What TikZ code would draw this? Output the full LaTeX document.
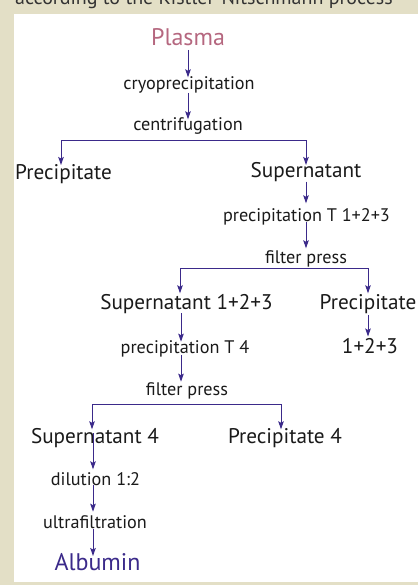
\documentclass[tikz,border=0pt]{standalone}
\usepackage{fontspec}
\setmainfont{PT Sans}
\usetikzlibrary{arrows.meta,calc}
\definecolor{beige}{HTML}{E3DFC6}
\definecolor{arrowc}{HTML}{3B2A8A}
\definecolor{plasmac}{HTML}{B5677F}
\definecolor{txt}{HTML}{1A1A1A}
\begin{document}
\begin{tikzpicture}[x=1pt,y=-1pt,
  base/.style={inner sep=0pt, anchor=base, text=txt},
  lab/.style={base, font=\fontsize{18.2}{19}\selectfont},
  prod/.style={base, font=\fontsize{21.2}{22}\selectfont},
  ends/.style={base, font=\fontsize{24}{25}\selectfont},
  conn/.style={draw=arrowc, line width=1pt},
  arr/.style={conn, -{Stealth[length=8pt,width=5.5pt,inset=1.5pt]}},
  arrtwo/.style={conn, {Stealth[length=8pt,width=5.5pt,inset=1.5pt]}-{Stealth[length=8pt,width=5.5pt,inset=1.5pt]}}]
\useasboundingbox (0,0) rectangle (418,585);
\fill[beige] (0,0) rectangle (418,585);
\fill[white] (14,14) rectangle (418,582);
\node[base, text=black!80, anchor=base west, font=\fontsize{20}{21}\selectfont] (title) at (15,5) {according to the Kistler-Nitschmann process};

\node[ends, text=plasmac] (plasma) at (188,46) {Plasma};
\node[lab] (cryo) at (189,89.5) {cryoprecipitation};
\node[lab] (cent) at (188,131) {centrifugation};
\node[prod] (prec1) at (63.5,179.5) {Precipitate};
\node[prod] (sup1) at (306,178) {Supernatant};
\node[lab] (pt123) at (306.5,221) {precipitation T 1+2+3};
\node[lab] (fp1) at (306,263) {filter press};
\node[prod] (sup123) at (186.5,309.5) {Supernatant 1+2+3};
\node[prod] (prec2) at (368,309.5) {Precipitate};
\node[lab] (pt4) at (185,353) {precipitation T 4};
\node[prod] (p123) at (370,353) {1+2+3};
\node[lab] (fp2) at (187,395) {filter press};
\node[prod] (sup4) at (95,443) {Supernatant 4};
\node[prod] (prec4) at (285,443) {Precipitate 4};
\node[lab] (dil) at (95.5,485) {dilution 1:2};
\node[lab] (ultra) at (95,528) {ultrafiltration};
\node[ends, text=arrowc] (alb) at (97.5,570) {Albumin};

\draw[arr] ($(plasma.base)+(0,4)$) -- ($(plasma.base |- cryo.base)+(0,-12.2)$);
\draw[arr] ($(cryo.base)+(-1,3.3)$) -- ($(cryo.base |- cent.base)+(-1,-11.7)$);
\draw[arrtwo] ($(prec1.base)+(-2.5,-14.5)$) |- ($(cent.base)+(0,9.5)$) -| ($(sup1.base)+(0,-13)$);
\draw[arr] ($(sup1.base)+(0,3.7)$) -- ($(sup1.base |- pt123.base)+(0,-17.7)$);
\draw[arr] ($(pt123.base)+(-0.5,0.7)$) -- ($(pt123.base |- fp1.base)+(-0.5,-14.7)$);
\draw[arrtwo] ($(sup123.base)+(-6.5,-16.2)$) |- ($(fp1.base)+(0,5.3)$) -| ($(prec2.base)+(0,-16.2)$);
\draw[arr] ($(sup123.base)+(-5.5,3.5)$) -- ($(sup123.base |- pt4.base)+(-5.5,-11.3)$);
\draw[arr] ($(prec2.base)+(0,5.5)$) -- ($(prec2.base |- p123.base)+(0,-16.5)$);
\draw[arr] ($(pt4.base)+(-4,2)$) -- ($(pt4.base |- fp2.base)+(-4,-13.3)$);
\draw[arrtwo] ($(sup4.base)+(-3,-13.7)$) |- ($(fp2.base)+(0,9.3)$) -| ($(prec4.base)+(-4,-13.7)$);
\draw[arr] ($(sup4.base)+(-2,-10)$) -- ($(sup4.base |- dil.base)+(-2,-15.7)$);
\draw[arr] ($(dil.base)+(-2.5,0)$) -- ($(dil.base |- ultra.base)+(-2.5,-16.3)$);
\draw[arr] ($(ultra.base)+(-2,0.5)$) -- ($(ultra.base |- alb.base)+(-2,-14)$);
\end{tikzpicture}
\end{document}
